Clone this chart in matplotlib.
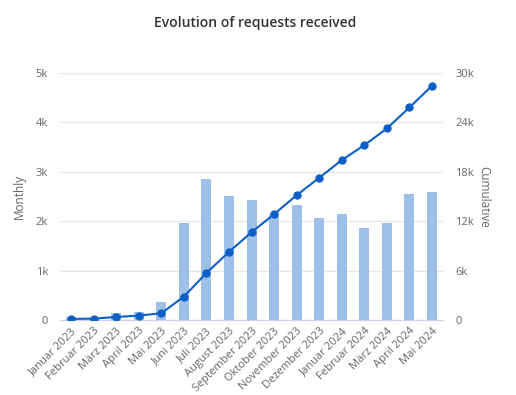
import matplotlib.pyplot as plt
from matplotlib.ticker import FuncFormatter

months = ['Januar 2023', 'Februar 2023', 'März 2023', 'April 2023', 'Mai 2023',
          'Juni 2023', 'Juli 2023', 'August 2023', 'September 2023', 'Oktober 2023',
          'November 2023', 'Dezember 2023', 'Januar 2024', 'Februar 2024',
          'März 2024', 'April 2024', 'Mai 2024']
monthly = [60, 45, 140, 160, 355, 1970, 2860, 2510, 2420, 2150, 2330, 2070,
           2140, 1870, 1970, 2545, 2590]
cumulative = [120, 165, 360, 530, 810, 2840, 5710, 8270, 10660, 12850, 15160,
              17270, 19420, 21240, 23270, 25820, 28450]

plt.rcParams['font.family'] = ['Open Sans', 'DejaVu Sans']

fig = plt.figure(figsize=(5.16, 3.95), dpi=100)
ax = fig.add_axes([0.116, 0.19, 0.743, 0.625])
ax2 = ax.twinx()

x = range(len(months))
ax.bar(x, monthly, width=0.44, color='#9dbfe8', zorder=2)
ax2.plot(x, cumulative, color='#0b5fc6', lw=1.5, marker='o', ms=5, zorder=3)

ax.set_ylim(0, 5000)
ax2.set_ylim(0, 30000)
ax.set_xlim(-0.5, len(months) - 0.5)
ax.set_yticks([0, 1000, 2000, 3000, 4000, 5000])
ax2.set_yticks([0, 6000, 12000, 18000, 24000, 30000])
kfmt = FuncFormatter(lambda v, p: '0' if v == 0 else '%dk' % (v / 1000))
ax.yaxis.set_major_formatter(kfmt)
ax2.yaxis.set_major_formatter(kfmt)

ax.grid(axis='y', color='#e6e6e6', lw=1, zorder=0)
ax.set_axisbelow(True)
ax.set_zorder(ax2.get_zorder() - 1)
ax.patch.set_visible(False)
ax2.patch.set_visible(False)

for a in (ax, ax2):
    for s in ('top', 'left', 'right'):
        a.spines[s].set_visible(False)
    a.spines['bottom'].set_color('#ccd6eb')
    a.tick_params(axis='y', length=0, labelsize=8, colors='#666666', pad=8.5)

ax.set_xticks(list(x))
ax.set_xticklabels(months, rotation=45, ha='right', rotation_mode='anchor',
                   fontsize=8, color='#666666')
ax.tick_params(axis='x', length=0, pad=4)

ax.set_ylabel('Monthly', fontsize=8.5, color='#666666', labelpad=7)
ax2.set_ylabel('Cumulative', fontsize=8.5, color='#666666', rotation=270,
               labelpad=12)

fig.suptitle('Evolution of requests received', x=0.494, y=0.96,
             fontsize=10, color='#333333', fontweight='semibold')

fig.savefig('out.png', dpi=100)
